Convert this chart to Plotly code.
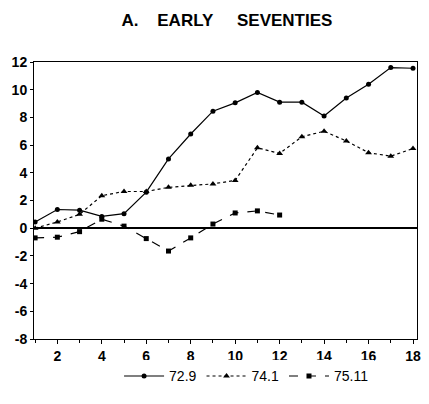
import plotly.graph_objects as go

periods = list(range(1, 19))
s729 = [0.45, 1.35, 1.3, 0.85, 1.05, 2.6, 5.0, 6.8, 8.45, 9.05, 9.8, 9.1, 9.1, 8.1, 9.4, 10.4, 11.6, 11.55]
s741 = [0.0, 0.45, 1.0, 2.35, 2.65, 2.65, 2.95, 3.1, 3.2, 3.45, 5.8, 5.4, 6.6, 7.0, 6.3, 5.45, 5.2, 5.75]
s7511 = [-0.7, -0.65, -0.25, 0.65, 0.15, -0.75, -1.65, -0.7, 0.3, 1.1, 1.25, 0.95]
names = ["72.9", "74.1", "75.11"]
title = "<b>A.\u00a0\u00a0\u00a0\u00a0EARLY\u00a0\u00a0\u00a0\u00a0\u00a0SEVENTIES</b>"
x_ticks = list(range(2, 19, 2))
y_ticks = list(range(-8, 13, 2))
y_ticklabels = [str(v) for v in y_ticks]  # plain hyphen minus as in the original

fig = go.Figure()
fig.add_trace(go.Scatter(x=periods, y=s729, name=names[0], mode="lines+markers",
                         line=dict(color="black", width=1.2, dash="solid"),
                         marker=dict(symbol="circle", size=5, color="black")))
fig.add_trace(go.Scatter(x=periods, y=s741, name=names[1], mode="lines+markers",
                         line=dict(color="black", width=1.2, dash="dot"),
                         marker=dict(symbol="triangle-up", size=6, color="black")))
fig.add_trace(go.Scatter(x=periods[:len(s7511)], y=s7511, name=names[2], mode="lines+markers",
                         line=dict(color="black", width=1.2, dash="dash"),
                         marker=dict(symbol="square", size=5, color="black")))

tickfont = dict(family="Arial, Liberation Sans, sans-serif", size=14, color="black", weight="bold")

fig.update_layout(
    width=413, height=388,
    margin=dict(l=26, r=4, t=54, b=53),
    paper_bgcolor="white", plot_bgcolor="white",
    font=dict(family="Arial, Liberation Sans, sans-serif", color="black", size=14),
    title=dict(text=title, x=0.53, xanchor="center", y=0.97, yanchor="middle",
               font=dict(size=17, color="black")),
    showlegend=True,
    legend=dict(orientation="h", x=0.555, xanchor="center", y=-0.135, yanchor="middle",
                font=dict(size=14), itemwidth=40),
)
fig.update_xaxes(range=[0.95, 18.18], tickmode="array", tickvals=x_ticks, tickfont=tickfont,
                 automargin=False,
                 ticks="outside", ticklen=4, tickcolor="black",
                 showline=True, linecolor="black", linewidth=1, mirror=True,
                 showgrid=False, zeroline=False,
                 minor=dict(tickmode="linear", tick0=1, dtick=1, ticks="outside", ticklen=3, tickcolor="black"))
fig.update_yaxes(range=[-8, 12], tickmode="array", tickvals=y_ticks, ticktext=y_ticklabels, tickfont=tickfont,
                 automargin=False,
                 ticks="outside", ticklen=3, tickcolor="black",
                 showline=True, linecolor="black", linewidth=1, mirror=True,
                 showgrid=False, zeroline=True, zerolinecolor="black", zerolinewidth=1.5)

fig.write_html("out.html")
